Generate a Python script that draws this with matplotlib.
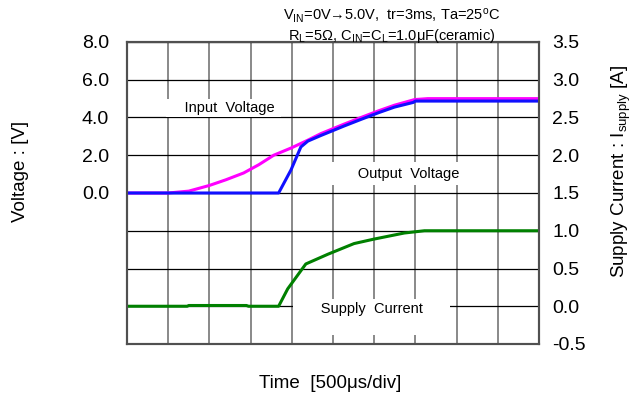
import numpy as np
import matplotlib
matplotlib.use("Agg")
import matplotlib.pyplot as plt

plt.rcParams['font.family'] = ['Liberation Sans', 'DejaVu Sans']
plt.rcParams['mathtext.fontset'] = 'custom'
plt.rcParams['mathtext.rm'] = 'Liberation Sans'
plt.rcParams['mathtext.it'] = 'Liberation Sans'

# time axis in divisions (500us/div)
vin_t = [0, 1.0, 1.5, 2.0, 2.4, 2.83, 3.2, 3.56, 4.0, 4.39, 4.71, 5.27, 5.68, 6.1, 6.49, 6.98, 7.3, 10]
vin_v = [0, 0, 0.1, 0.4, 0.7, 1.06, 1.5, 2.0, 2.4, 2.8, 3.15, 3.65, 4.0, 4.35, 4.65, 4.95, 5.0, 5.0]

vout_t = [0, 3.68, 3.98, 4.22, 4.39, 4.71, 5.27, 5.68, 6.1, 6.49, 6.95, 7.0, 10]
vout_v = [0, 0, 1.22, 2.44, 2.75, 3.05, 3.55, 3.9, 4.25, 4.55, 4.8, 4.87, 4.87]

isup_t = [0, 1.46, 1.5, 2.9, 2.95, 3.68, 3.9, 4.34, 4.88, 5.51, 6.0, 6.73, 7.22, 10]
isup_a = [0, 0, 0.01, 0.01, 0, 0, 0.23, 0.56, 0.69, 0.83, 0.89, 0.97, 1.0, 1.0]

v_ticks = [0.0, 2.0, 4.0, 6.0, 8.0]
i_ticks = [-0.5, 0.0, 0.5, 1.0, 1.5, 2.0, 2.5, 3.0, 3.5]

fig = plt.figure(figsize=(6.33, 3.96), dpi=100)
ax = fig.add_axes([127/633, 52/396, 412/633, 302/396])
ax2 = ax.twinx()

ax.set_xlim(0, 10)
ax.set_ylim(-8, 8)
ax2.set_ylim(-0.5, 3.5)

ax.set_xticks(range(11))
ax.set_xticklabels([])
ax.set_yticks(np.arange(-8, 9, 2))
ax.set_yticklabels([f"{v:.1f}" if v in v_ticks else "" for v in np.arange(-8, 9, 2)])
ax2.set_yticks(i_ticks)
ax2.set_yticklabels([f"{v:.1f}" for v in i_ticks])

ax.tick_params(axis='both', length=0, labelsize=14)
ax.tick_params(axis='y', pad=13)
ax2.tick_params(axis='y', length=0, labelsize=14, pad=9.5)

ax.set_axisbelow(True)
ax.xaxis.grid(True, color='#808080', lw=1.3)
ax.yaxis.grid(True, color='black', lw=0.9)

for a in (ax, ax2):
    for s in a.spines.values():
        s.set_color('#505050')
        s.set_linewidth(1.5)

ax.plot(vin_t, vin_v, color='#ff00ff', lw=2.2, zorder=4)
ax.plot(vout_t, vout_v, color='#1010ff', lw=2.2, zorder=5)
ax2.plot(isup_t, isup_a, color='#008000', lw=2.2)

ax.text(2.34, 4.28, "    Input  Voltage ", fontsize=10.5, ha='center', va='baseline',
        bbox=dict(facecolor='white', edgecolor='none', boxstyle='square,pad=0.15'))
ax.text(6.59, 0.82, "      Output  Voltage ", fontsize=10.5, ha='center', va='baseline',
        bbox=dict(facecolor='white', edgecolor='none', boxstyle='square,pad=0.3'))
ax2.text(5.94, 0.06, "      Supply  Current      \n ", fontsize=10.5, ha='center', va='top',
         bbox=dict(facecolor='white', edgecolor='none', boxstyle='square,pad=0.2'))

fig.text(392/633, 1 - 16/396, r"V$_{\rm IN}$=0V→5.0V,  tr=3ms, Ta=25$^{\rm o}$C",
         fontsize=10.5, ha='center', va='center')
fig.text(392/633, 1 - 36/396, r"R$_{\rm L}$=5Ω, C$_{\rm IN}$=C$_{\rm L}$=1.0μF(ceramic)",
         fontsize=10.5, ha='center', va='center')

fig.text(330/633, 1 - 383/396, "Time  [500μs/div]", fontsize=13.5, ha='center', va='center')
fig.text(21/633, 1 - 171/396, "Voltage : [V]", fontsize=13.5, rotation=90, ha='center', va='center')
fig.text(621/633, 1 - 171/396, r"Supply Current : I$_{\rm supply}$ [A]", fontsize=13.5,
         rotation=90, ha='center', va='center')

fig.savefig("out.png", dpi=100)
